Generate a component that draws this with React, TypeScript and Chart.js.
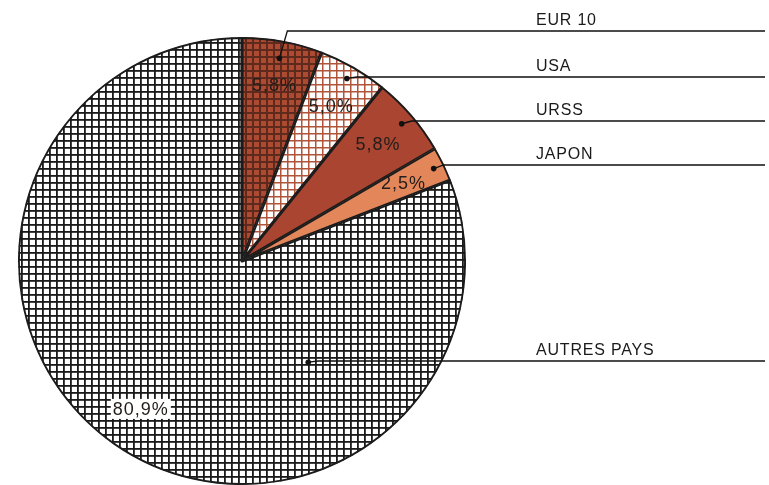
import React, { useEffect, useRef } from "react";
import { Chart, registerables } from "chart.js";

Chart.register(...registerables);

const categories = ["EUR 10", "USA", "URSS", "JAPON", "AUTRES PAYS"];
const shares = [5.8, 5.0, 5.8, 2.5, 80.9];
const valueLabels = ["5,8%", "5,0%", "5,8%", "2,5%", "80,9%"];

function gridPattern(bg: string, line: string, pitch: number, lw: number): CanvasPattern | string {
  const c = document.createElement("canvas");
  c.width = pitch;
  c.height = pitch;
  const ctx = c.getContext("2d");
  if (!ctx) return bg;
  ctx.fillStyle = bg;
  ctx.fillRect(0, 0, pitch, pitch);
  ctx.fillStyle = line;
  ctx.fillRect(0, 0, pitch, lw);
  ctx.fillRect(0, 0, lw, pitch);
  return ctx.createPattern(c, "repeat") || bg;
}

export default function App() {
  const ref = useRef<HTMLCanvasElement | null>(null);

  useEffect(() => {
    if (!ref.current) return;
    const fills = [
      gridPattern("#ad4a32", "#5e2a1e", 7, 2),
      gridPattern("#ffffff", "#b0553a", 7, 1.5),
      "#a94530",
      "#e3875a",
      gridPattern("#ffffff", "#1a1a1a", 7, 1.8),
    ];
    const lineYs = [31, 77, 121, 165, 361];
    const dotFrac = [0.92, 0.94, 0.94, 0.95, 0.54];
    const labelFrac = 0.8;
    const fontFam = "Arial, 'Liberation Sans', sans-serif";

    const annot = {
      id: "annot",
      afterDatasetsDraw(chart: any) {
        const ctx = chart.ctx;
        const meta = chart.getDatasetMeta(0);
        ctx.save();
        meta.data.forEach((arc: any, i: number) => {
          const { x, y, startAngle, endAngle, outerRadius } = arc.getProps(
            ["x", "y", "startAngle", "endAngle", "outerRadius"],
            true
          );
          const mid = (startAngle + endAngle) / 2;
          const lx = x + Math.cos(mid) * outerRadius * labelFrac;
          const ly = y + Math.sin(mid) * outerRadius * labelFrac;
          ctx.font = `18px ${fontFam}`;
          (ctx as any).letterSpacing = "1px";
          ctx.textAlign = "center";
          ctx.textBaseline = "middle";
          if (i === 4) {
            const w = ctx.measureText(valueLabels[i]).width;
            ctx.fillStyle = "#ffffff";
            ctx.fillRect(lx - w / 2 - 2, ly - 10, w + 4, 20);
          }
          ctx.fillStyle = "#231c1a";
          ctx.fillText(valueLabels[i], lx, ly + 1);
          (ctx as any).letterSpacing = "0px";

          let dAng = mid;
          if (i === 4) dAng = (56.8 * Math.PI) / 180;
          const dx = x + Math.cos(dAng) * outerRadius * dotFrac[i];
          const dy = y + Math.sin(dAng) * outerRadius * dotFrac[i];
          ctx.fillStyle = "#111";
          ctx.beginPath();
          ctx.arc(dx, dy, 2.8, 0, Math.PI * 2);
          ctx.fill();
          ctx.strokeStyle = "#111";
          ctx.lineWidth = 1.3;
          ctx.beginPath();
          ctx.moveTo(dx, dy);
          ctx.lineTo(dx + (i === 0 ? 8 : 10), lineYs[i]);
          ctx.lineTo(765, lineYs[i]);
          ctx.stroke();

          ctx.font = `16px ${fontFam}`;
          ctx.textAlign = "left";
          ctx.textBaseline = "alphabetic";
          ctx.fillStyle = "#1a1a1a";
          (ctx as any).letterSpacing = "0.8px";
          ctx.fillText(categories[i], 536, lineYs[i] - 6);
          (ctx as any).letterSpacing = "0px";
        });
        ctx.restore();
      },
    };

    const chart = new Chart(ref.current, {
      type: "pie",
      data: {
        labels: categories,
        datasets: [
          {
            data: shares,
            backgroundColor: fills as any,
            borderColor: "#1c1c1c",
            borderWidth: 1.6,
            borderAlign: "inner" as any,
          },
        ],
      },
      options: {
        animation: false,
        responsive: false,
        rotation: 0,
        layout: { padding: { left: 17, top: 37, right: 302, bottom: 0 } },
        plugins: {
          legend: { display: false },
          tooltip: { enabled: false },
        },
      },
      plugins: [annot],
    });
    return () => chart.destroy();
  }, []);

  return (
    <div style={{ position: "fixed", left: 0, top: 0, width: 769, height: 485, background: "#fff" }}>
      <canvas ref={ref} width={769} height={485} style={{ width: 769, height: 485 }} />
    </div>
  );
}
